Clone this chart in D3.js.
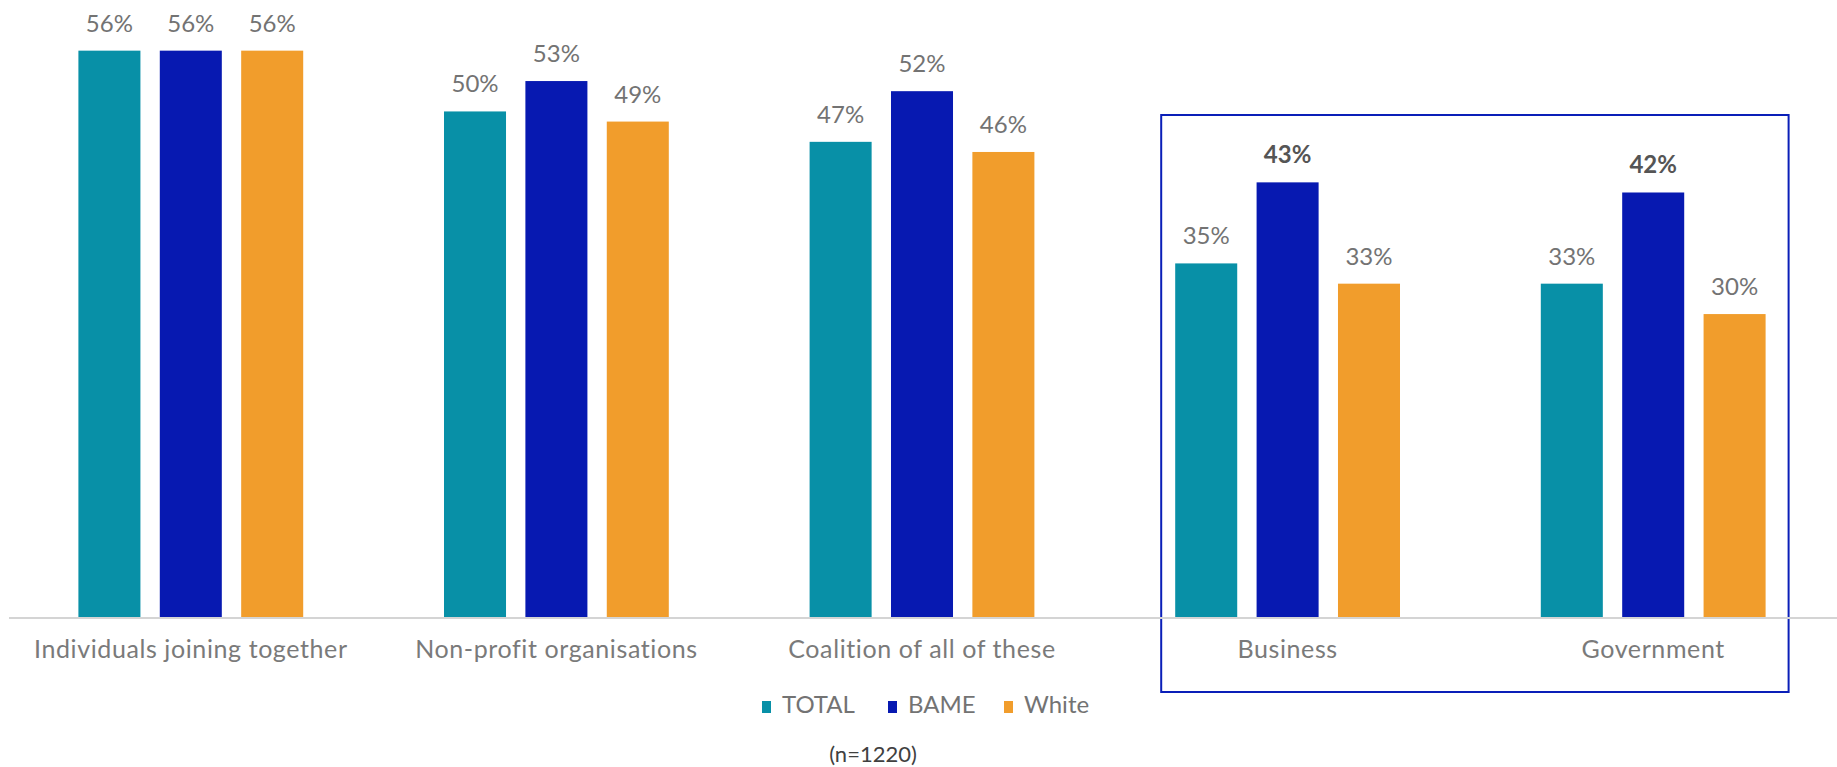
<!DOCTYPE html>
<html>
<head>
<meta charset="utf-8">
<script src="https://cdn.jsdelivr.net/npm/d3@7"></script>
<style>
  html, body { margin: 0; padding: 0; background: #ffffff; }
  svg { display: block; font-family: Lato, "Open Sans", sans-serif; }
</style>
</head>
<body>
<svg id="chart" width="1837" height="767"></svg>
<script>
// Who can make change happen — share of respondents by group
const categories = ["Individuals joining together", "Non-profit organisations", "Coalition of all of these", "Business", "Government"];
const series = ["TOTAL", "BAME", "White"];
const totalValues = [56, 50, 47, 35, 33];
const bameValues  = [56, 53, 52, 43, 42];
const whiteValues = [56, 49, 46, 33, 30];
const highlighted = ["Business", "Government"];
const boldLabels = [["Business", "BAME"], ["Government", "BAME"]];
const note = "(n=1220)";

const colors = { TOTAL: "#0890a7", BAME: "#0719b1", White: "#f19d2c" };
const valuesBySeries = { TOTAL: totalValues, BAME: bameValues, White: whiteValues };

const rows = categories.map((c, i) => ({
  category: c,
  values: series.map(s => ({ category: c, series: s, value: valuesBySeries[s][i] }))
}));

const svg = d3.select("#chart");
const baseline = 618;

const x0 = d3.scaleBand().domain(categories).range([8, 1836]).paddingInner(0).paddingOuter(0);
const x1 = d3.scaleBand().domain(series).range([0, x0.bandwidth()]).paddingInner(0.238).paddingOuter(0.865);
const y = d3.scaleLinear().domain([0, 61]).range([baseline, 0]);

// highlight frame around the last two categories
const hx0 = x0(highlighted[0]) + x1("TOTAL") - 14;
const hx1 = x0(highlighted[1]) + x1("White") + x1.bandwidth() + 23;
svg.append("rect")
  .attr("x", hx0).attr("y", 115)
  .attr("width", hx1 - hx0).attr("height", 692 - 115)
  .attr("fill", "none").attr("stroke", "#0a1fb8").attr("stroke-width", 2);

// bars
const groups = svg.append("g").selectAll("g").data(rows).join("g")
  .attr("transform", d => `translate(${x0(d.category)},0)`);

groups.selectAll("rect").data(d => d.values).join("rect")
  .attr("x", d => x1(d.series))
  .attr("y", d => y(d.value))
  .attr("width", x1.bandwidth())
  .attr("height", d => baseline - y(d.value))
  .attr("fill", d => colors[d.series]);

// value labels
const isBold = d => boldLabels.some(b => b[0] === d.category && b[1] === d.series);
groups.selectAll("text").data(d => d.values).join("text")
  .attr("x", d => x1(d.series) + x1.bandwidth() / 2)
  .attr("y", d => y(d.value) - 19)
  .attr("text-anchor", "middle")
  .attr("font-size", 24)
  .attr("font-weight", d => isBold(d) ? 700 : 400)
  .attr("fill", d => isBold(d) ? "#555555" : "#737373")
  .text(d => d.value + "%");

// category axis
const axis = svg.append("g")
  .attr("transform", `translate(0,${baseline})`)
  .call(d3.axisBottom(x0).tickSize(0).tickPadding(0));
axis.select(".domain").attr("stroke", "#d4d4d4").attr("stroke-width", 2).attr("d", "M9,0H1837");
axis.selectAll(".tick text")
  .attr("y", 40)
  .attr("dy", 0)
  .attr("font-size", 25)
  .attr("letter-spacing", 0.6)
  .attr("font-family", "Lato, 'Open Sans', sans-serif")
  .attr("fill", "#7a7a7a");

// legend
const legendItems = [
  { key: "TOTAL", x: 762 },
  { key: "BAME", x: 888 },
  { key: "White", x: 1004 }
];
const legend = svg.append("g").selectAll("g").data(legendItems).join("g")
  .attr("transform", d => `translate(${d.x},713)`);
legend.append("rect")
  .attr("x", 0).attr("y", -12).attr("width", 9).attr("height", 12)
  .attr("fill", d => colors[d.key]);
legend.append("text")
  .attr("x", 20).attr("y", 0)
  .attr("font-size", 24)
  .attr("fill", "#737373")
  .text(d => d.key);

// sample size note
svg.append("text")
  .attr("x", 873).attr("y", 762)
  .attr("text-anchor", "middle")
  .attr("font-size", 22)
  .attr("fill", "#404040")
  .text(note);
</script>
</body>
</html>
